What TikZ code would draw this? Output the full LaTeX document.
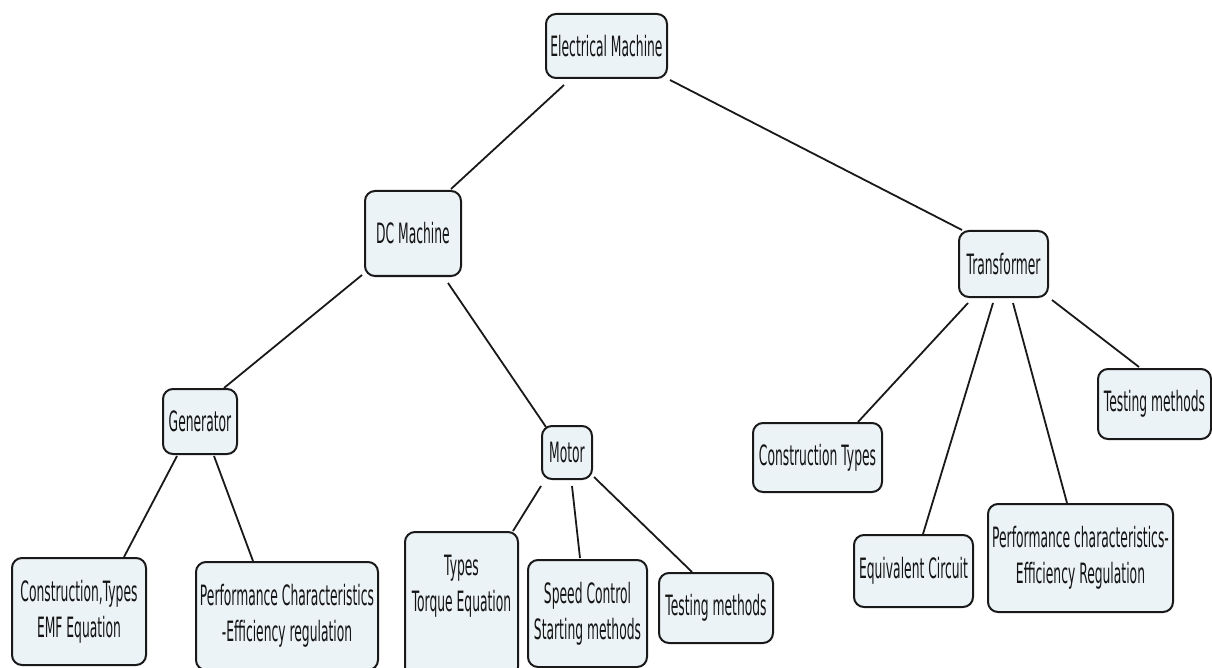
\documentclass[tikz,border=0pt]{standalone}
\usepackage{fontspec}
\setmainfont[FakeStretch=0.44]{DejaVu Sans}
\usetikzlibrary{calc}
\definecolor{boxfill}{RGB}{236,243,246}
\definecolor{boxline}{RGB}{25,25,25}
\tikzset{
  mbox/.style={draw=boxline, line width=2pt, fill=boxfill, rounded corners=10pt,
    align=center, inner sep=0pt, font=\fontsize{28}{36}\selectfont, text=black!92},
  link/.style={line width=1.8pt, draw=black!90}
}
\begin{document}
\begin{tikzpicture}[x=1pt,y=-1pt]
\useasboundingbox (0,0) rectangle (1212,668);
% nodes
\node[mbox, minimum width=121pt, minimum height=64pt] (em) at (606.5,46) {Electrical Machine};
\node[mbox, minimum width=96pt, minimum height=85pt] (dc) at (413,233.5) {DC Machine};
\node[mbox, minimum width=89pt, minimum height=66pt] (tr) at (1003.5,264) {Transformer};
\node[mbox, minimum width=74pt, minimum height=65pt] (gen) at (200,421.5) {Generator};
\node[mbox, minimum width=50pt, minimum height=53pt] (mot) at (567,452.5) {Motor};
\node[mbox, minimum width=134pt, minimum height=107pt] (ce) at (79,611.5) {Construction,Types\\EMF Equation};
\node[mbox, minimum width=182pt, minimum height=108pt] (pc) at (287,616) {Performance Characteristics\\-Efficiency regulation};
\node[mbox, minimum width=113pt, minimum height=145pt] (tt) at (461.5,604.5) {Types\\Torque Equation\\[6pt]};
\node[mbox, minimum width=119pt, minimum height=107pt] (sc) at (587.5,613.5) {Speed Control\\Starting methods};
\node[mbox, minimum width=114pt, minimum height=70pt] (tm) at (716,608) {Testing methods};
\node[mbox, minimum width=129pt, minimum height=69pt] (ct) at (817.5,457.5) {Construction Types};
\node[mbox, minimum width=119pt, minimum height=72pt] (eq) at (913.5,571) {Equivalent Circuit};
\node[mbox, minimum width=185pt, minimum height=108pt] (pr) at (1080.5,558) {Performance characteristics-\\Efficiency Regulation};
\node[mbox, minimum width=113pt, minimum height=70pt] (tt2) at (1154.5,404) {Testing methods};
% connectors
\draw[link] ($(em.south west)+(19,6)$) -- ($(dc.north east)+(-11,-1)$);
\draw[link] ($(em.south east)+(2,1)$) -- ($(tr.north west)+(4,0)$);
\draw[link] ($(dc.south west)+(-2,-2)$) -- ($(gen.north east)+(-14,0)$);
\draw[link] ($(dc.south east)+(-14,6)$) -- ($(mot.north west)+(5,2)$);
\draw[link] ($(gen.south west)+(15,1)$) -- ($(ce.north east)+(-23,0)$);
\draw[link] ($(gen.south)+(14,1)$) -- ($(pc.north west)+(58,0)$);
\draw[link] ($(mot.south west)+(0,6)$) -- ($(tt.north east)+(-6,0)$);
\draw[link] ($(mot.south)+(5,6)$) -- ($(sc.north)+(-7.5,-1)$);
\draw[link] ($(mot.south east)+(1,-3)$) -- ($(tm.north west)+(34,0)$);
\draw[link] ($(tr.south west)+(10,5)$) -- ($(ct.north west)+(106,0)$);
\draw[link] ($(tr.south)+(-10.5,5)$) -- ($(eq.north)+(9.5,0)$);
\draw[link] ($(tr.south)+(9.5,5)$) -- ($(pr.north west)+(80,0)$);
\draw[link] ($(tr.south east)+(3,2)$) -- ($(tt2.north west)+(42,-1)$);
\end{tikzpicture}
\end{document}
